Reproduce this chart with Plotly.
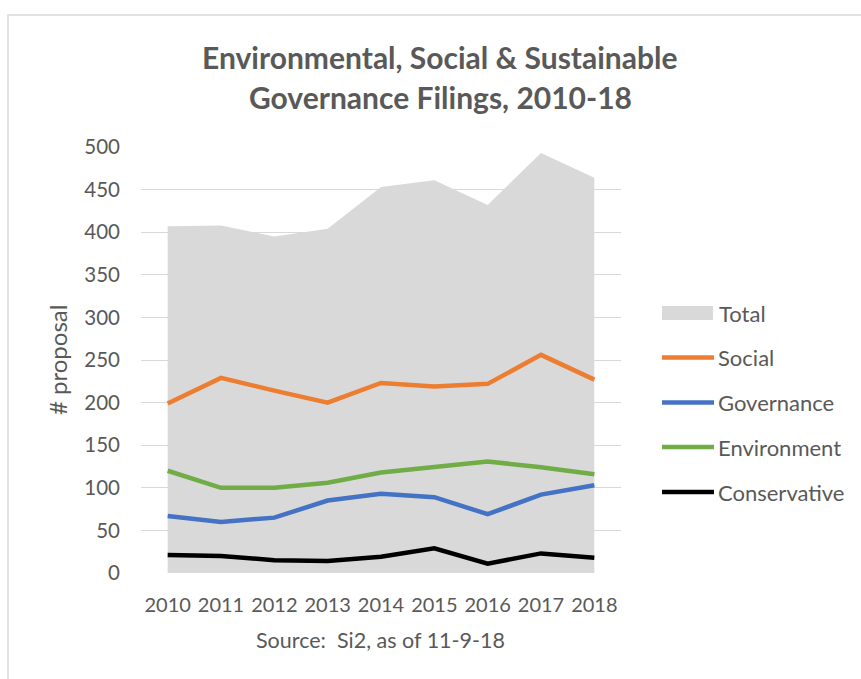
import plotly.graph_objects as go

years = ["2010", "2011", "2012", "2013", "2014", "2015", "2016", "2017", "2018"]
total = [407, 408, 395, 404, 453, 461, 432, 493, 464]
social = [199, 229, 214, 200, 223, 219, 222, 256, 227]
governance = [67, 60, 65, 85, 93, 89, 69, 92, 103]
environment = [120, 100, 100, 106, 118, 125, 131, 124, 116]
conservative = [21, 20, 15, 14, 19, 29, 11, 23, 18]

series_names = ["Social", "Governance", "Environment", "Conservative"]
series_values = [social, governance, environment, conservative]
series_colors = ["#ed7d31", "#4472c4", "#70ad47", "#000000"]

W, H = 861, 679
L, R, T, B = 141, 621, 147, 573
FONT = "Lato"
GREY = "#595959"


def px(x):
    return (x - L) / (R - L)


def py(y):
    return (B - y) / (B - T)


fig = go.Figure()
fig.add_trace(go.Scatter(x=years, y=total, name="Total", mode="lines",
                         fill="tozeroy", fillcolor="#d9d9d9",
                         line=dict(width=0, color="#d9d9d9"), showlegend=False))
for n, v, c in zip(series_names, series_values, series_colors):
    fig.add_trace(go.Scatter(x=years, y=v, name=n, mode="lines",
                             line=dict(width=4.5, color=c), showlegend=False))

shapes = []
annotations = []
# outer border
shapes.append(dict(type="rect", xref="paper", yref="paper",
                   x0=px(8), x1=px(875), y0=py(695), y1=py(15),
                   line=dict(color="#d9d9d9", width=1.5), layer="below"))
# title
annotations.append(dict(text="<b>Environmental, Social & Sustainable</b>", x=px(440), y=py(57),
                        xref="paper", yref="paper", showarrow=False, xanchor="center", yanchor="middle",
                        font=dict(family=FONT, size=30, color=GREY)))
annotations.append(dict(text="<b>Governance Filings, 2010-18</b>", x=px(440), y=py(97),
                        xref="paper", yref="paper", showarrow=False, xanchor="center", yanchor="middle",
                        font=dict(family=FONT, size=30, color=GREY)))
# axis titles
annotations.append(dict(text="# proposal", x=px(57), y=py(360), xref="paper", yref="paper",
                        showarrow=False, textangle=-90, xanchor="center", yanchor="middle",
                        font=dict(family=FONT, size=24, color=GREY)))
annotations.append(dict(text="Source:\u00a0 Si2, as of 11-9-18", x=px(380), y=py(640), xref="paper", yref="paper",
                        showarrow=False, xanchor="center", yanchor="middle",
                        font=dict(family=FONT, size=21.5, color=GREY)))
# legend
leg_y = [313, 357.5, 402.5, 447, 492]
shapes.append(dict(type="rect", xref="paper", yref="paper", x0=px(662), x1=px(713),
                   y0=py(320), y1=py(306), fillcolor="#d9d9d9", line=dict(width=0)))
annotations.append(dict(text="Total", x=px(717), y=py(leg_y[0]), xref="paper", yref="paper",
                        showarrow=False, xanchor="left", yanchor="middle",
                        font=dict(family=FONT, size=22, color=GREY)))
for i, (n, c) in enumerate(zip(series_names, series_colors)):
    yy = leg_y[i + 1]
    shapes.append(dict(type="line", xref="paper", yref="paper", x0=px(662), x1=px(714),
                       y0=py(yy), y1=py(yy), line=dict(color=c, width=4.5)))
    annotations.append(dict(text=n, x=px(716), y=py(yy), xref="paper", yref="paper",
                            showarrow=False, xanchor="left", yanchor="middle",
                            font=dict(family=FONT, size=22, color=GREY)))

fig.update_layout(
    width=W, height=H,
    margin=dict(l=L, r=W - R, t=T, b=H - B, pad=0),
    paper_bgcolor="white", plot_bgcolor="white",
    font=dict(family=FONT, size=20, color=GREY),
    shapes=shapes, annotations=annotations,
    xaxis=dict(type="category", range=[-0.5, 8.5], showgrid=False, zeroline=False,
               showline=False, ticks="", ticklabelstandoff=18,
               tickfont=dict(family=FONT, size=20, color=GREY), fixedrange=True),
    yaxis=dict(range=[0, 500], dtick=50, tick0=0, showgrid=True, gridcolor="#d9d9d9",
               gridwidth=1.3, zeroline=False, showline=False, ticks="", ticklabelstandoff=20,
               tickfont=dict(family=FONT, size=20.5, color=GREY), fixedrange=True),
    showlegend=False,
)
fig.write_html("out.html")
